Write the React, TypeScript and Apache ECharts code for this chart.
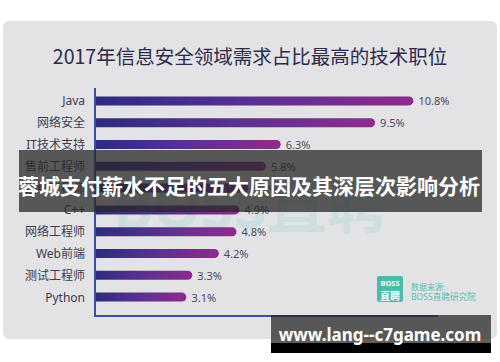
import React, { useEffect, useRef } from "react";
import * as echarts from "echarts";

const titleText = "2017年信息安全领域需求占比最高的技术职位";
const categories = ["Java", "网络安全", "IT技术支持", "售前工程师", "运维工程师", "C++", "网络工程师", "Web前端", "测试工程师", "Python"];
const values = [10.8, 9.5, 6.3, 5.8, 5.2, 4.9, 4.8, 4.2, 3.3, 3.1];
const bannerText = "蓉城支付薪水不足的五大原因及其深层次影响分析";
const siteText = "www.lang--c7game.com";
const sourceLabel = "数据来源:";
const sourceName = "BOSS直聘研究院";
const watermark = "BOSS直聘";

const FONT = "'Noto Sans', 'Noto Sans CJK SC', sans-serif";
const CJK = "'Noto Sans CJK SC', sans-serif";

export default function App() {
  const ref = useRef<HTMLDivElement>(null);
  useEffect(() => {
    if (!ref.current) return;
    const chart = echarts.init(ref.current, null, { renderer: "svg" });
    const axisColor = "#3a4fa0";
    chart.setOption({
      animation: false,
      backgroundColor: "#ffffff",
      title: {
        text: titleText,
        left: "center",
        top: 45,
        padding: 0,
        textStyle: { fontSize: 19.5, lineHeight: 20, color: "#2b2b4a", fontWeight: "normal", fontFamily: CJK },
        z: 10,
      },
      grid: { left: 95, top: 90, width: 342, height: 218, containLabel: false },
      xAxis: {
        type: "value",
        min: 0,
        max: 11.6,
        offset: 8,
        splitLine: { show: false },
        axisTick: { show: false },
        axisLabel: { show: false },
        axisLine: { show: true, lineStyle: { color: axisColor, width: 2 } },
        z: 5,
      },
      yAxis: {
        type: "category",
        inverse: true,
        data: categories,
        axisTick: { show: false },
        axisLine: { show: true, lineStyle: { color: axisColor, width: 2 } },
        axisLabel: { color: "#3c3c4e", fontSize: 12, margin: 10, fontFamily: FONT },
        z: 5,
      },
      series: [
        {
          type: "bar",
          data: values,
          barWidth: 9,
          z: 3,
          itemStyle: {
            borderRadius: [0, 5, 5, 0],
            color: new echarts.graphic.LinearGradient(0, 0, 1, 0, [
              { offset: 0, color: "#2d2c7e" },
              { offset: 0.5, color: "#5a3190" },
              { offset: 1, color: "#8e2b8c" },
            ]),
          },
          label: {
            show: true,
            position: "right",
            distance: 5,
            formatter: "{c}%",
            color: "#4a4a58",
            fontSize: 11,
            fontFamily: FONT,
          },
        },
      ],
      graphic: [
        { type: "rect", z: -100, shape: { x: 3, y: 21, width: 494, height: 318, r: 6 }, style: { fill: "#e3e3e6" } },
        {
          type: "text", z: 1, x: 250, y: 205,
          style: { text: watermark, fill: "rgba(100,200,180,0.16)", font: `bold 60px ${FONT}`, textAlign: "center", textVerticalAlign: "middle" },
        },
        { type: "line", z: 5, shape: { x1: 95, y1: 88, x2: 95, y2: 317 }, style: { stroke: axisColor, lineWidth: 2 } },
        { type: "rect", z: 10, shape: { x: 377, y: 276, width: 26, height: 26, r: 2 }, style: { fill: "#4cbcaa" } },
        {
          type: "text", z: 11, x: 390, y: 283,
          style: { text: "BOSS", fill: "#ffffff", font: `bold 7.5px ${FONT}`, textAlign: "center", textVerticalAlign: "middle" },
        },
        {
          type: "text", z: 11, x: 390, y: 295,
          style: { text: "直聘", fill: "#ffffff", font: `bold 10px ${CJK}`, textAlign: "center", textVerticalAlign: "middle" },
        },
        {
          type: "text", z: 10, x: 411, y: 286,
          style: { text: sourceLabel, fill: "#5bbfae", font: `8px ${CJK}`, textAlign: "left", textVerticalAlign: "middle" },
        },
        {
          type: "text", z: 10, x: 411, y: 297,
          style: { text: sourceName, fill: "#5bbfae", font: `8.6px ${FONT}`, textAlign: "left", textVerticalAlign: "middle" },
        },
        { type: "rect", z: 100, shape: { x: 19, y: 150, width: 463, height: 62 }, style: { fill: "rgba(40,40,40,0.75)" } },
        {
          type: "text", z: 101, x: 249, y: 185,
          style: { text: bannerText, fill: "#ffffff", font: `bold 21px ${CJK}`, textAlign: "center", textVerticalAlign: "middle" },
        },
        { type: "rect", z: 100, shape: { x: 271, y: 315, width: 220, height: 28 }, style: { fill: "rgba(40,40,40,0.75)" } },
        { type: "rect", z: 100, shape: { x: 271, y: 343, width: 220, height: 10 }, style: { fill: "#000000" } },
        {
          type: "text", z: 101, x: 380, y: 334,
          style: { text: siteText, fill: "#ffffff", font: `bold 17px ${FONT}`, textAlign: "center", textVerticalAlign: "middle" },
        },
      ],
    });
    return () => chart.dispose();
  }, []);
  return <div ref={ref} style={{ position: "fixed", left: 0, top: 0, width: 500, height: 362 }} />;
}
